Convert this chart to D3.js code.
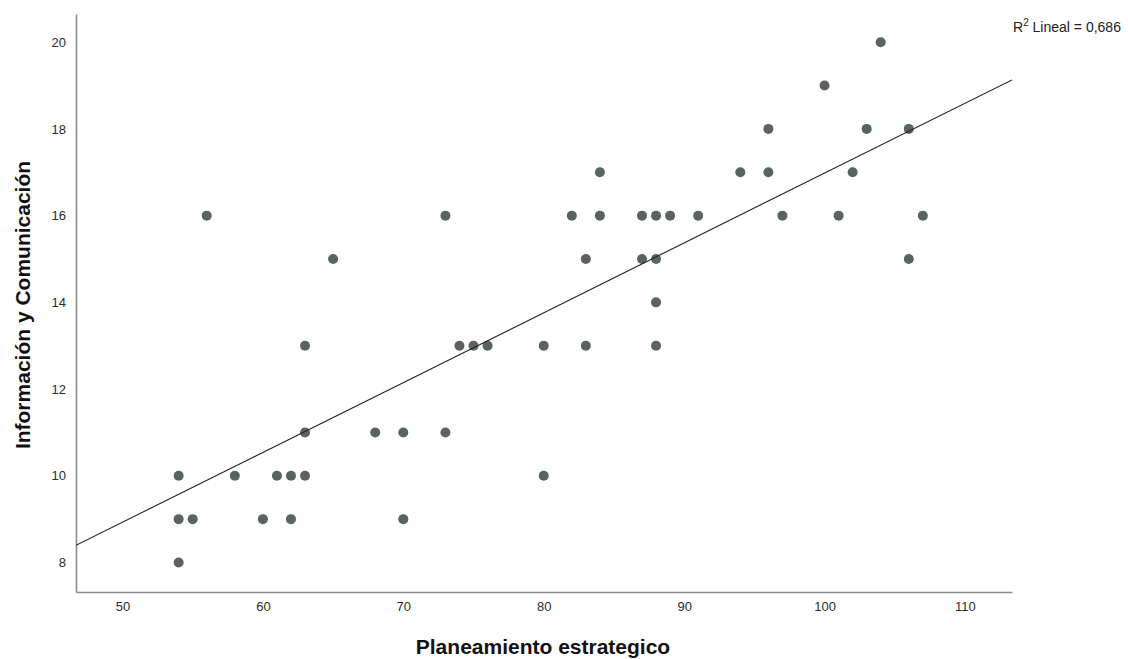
<!DOCTYPE html>
<html>
<head>
<meta charset="utf-8">
<script src="https://cdn.jsdelivr.net/npm/d3@7"></script>
<style>
  body { margin: 0; background: #fff; }
  text { font-family: "Liberation Sans", Arial, sans-serif; }
</style>
</head>
<body>
<div id="chart"></div>
<script>
// data: Planeamiento estrategico (x) vs Información y Comunicación (y)
planeamiento = [54, 54, 54, 55, 56, 58, 60, 61, 62, 62, 63, 63, 63, 65, 68, 70, 70,
  73, 73, 74, 75, 76, 80, 80, 82, 83, 83, 84, 84, 87, 87, 88, 88, 88, 88, 89,
  91, 94, 96, 96, 97, 100, 101, 102, 103, 104, 106, 106, 107]
informacion = [10, 9, 8, 9, 16, 10, 9, 10, 10, 9, 13, 11, 10, 15, 11, 11, 9,
  16, 11, 13, 13, 13, 13, 10, 16, 15, 13, 17, 16, 16, 15, 16, 15, 14, 13, 16,
  16, 17, 18, 17, 16, 19, 16, 17, 18, 20, 18, 15, 16]
xTicks = [50, 60, 70, 80, 90, 100, 110]
yTicks = [8, 10, 12, 14, 16, 18, 20]
// fitted line (intercept, slope) as drawn
fitLine = [0.88, 0.161]
r2Label = "0,686"

const width = 1128, height = 659
const margin = { top: 14, right: 116, bottom: 67, left: 76 }

const svg = d3.select("#chart").append("svg")
  .attr("width", width)
  .attr("height", height)

const x = d3.scaleLinear()
  .domain([46.69, 113.35])
  .range([margin.left, width - margin.right])
const y = d3.scaleLinear()
  .domain([7.32, 20.65])
  .range([height - margin.bottom, margin.top])

// axes, no tick marks
const xAxis = svg.append("g")
  .attr("transform", `translate(0,${height - margin.bottom})`)
  .call(d3.axisBottom(x).tickValues(xTicks).tickSize(0).tickPadding(10))
xAxis.select(".domain").attr("stroke", "#8c8c8c").attr("stroke-width", 1.6)
xAxis.selectAll("text").style("font-size", "13px").attr("fill", "#2b2b2b")

const yAxis = svg.append("g")
  .attr("transform", `translate(${margin.left},0)`)
  .call(d3.axisLeft(y).tickValues(yTicks).tickSize(0).tickPadding(10))
yAxis.select(".domain").attr("stroke", "#8c8c8c").attr("stroke-width", 1.6)
yAxis.selectAll("text").style("font-size", "13px").attr("fill", "#2b2b2b")

// clip for the fit line
svg.append("clipPath").attr("id", "plotClip")
  .append("rect")
  .attr("x", margin.left).attr("y", margin.top)
  .attr("width", width - margin.right - margin.left)
  .attr("height", height - margin.bottom - margin.top)

// points
svg.append("g")
  .selectAll("circle")
  .data(planeamiento)
  .join("circle")
  .attr("cx", d => x(d))
  .attr("cy", (d, i) => y(informacion[i]))
  .attr("r", 5)
  .attr("fill", "#59645e")

// regression line
const x0 = x.domain()[0], x1 = x.domain()[1]
svg.append("line")
  .attr("clip-path", "url(#plotClip)")
  .attr("x1", x(x0)).attr("y1", y(fitLine[0] + fitLine[1] * x0))
  .attr("x2", x(x1)).attr("y2", y(fitLine[0] + fitLine[1] * x1))
  .attr("stroke", "#222")
  .attr("stroke-width", 1.1)

// R2 label
const r2 = svg.append("text")
  .attr("x", 1013)
  .attr("y", 32)
  .style("font-size", "14px")
  .attr("fill", "#222")
r2.append("tspan").text("R")
r2.append("tspan").attr("dy", -6).style("font-size", "10px").text("2")
r2.append("tspan").attr("dy", 6).text(" Lineal = " + r2Label)

// axis titles
svg.append("text")
  .attr("x", 543)
  .attr("y", 654)
  .attr("text-anchor", "middle")
  .style("font-size", "21px")
  .style("font-weight", "bold")
  .attr("fill", "#111")
  .text("Planeamiento estrategico")

svg.append("text")
  .attr("transform", "translate(30,305) rotate(-90)")
  .attr("text-anchor", "middle")
  .style("font-size", "21px")
  .style("font-weight", "bold")
  .attr("fill", "#111")
  .text("Información y Comunicación")
</script>
</body>
</html>
